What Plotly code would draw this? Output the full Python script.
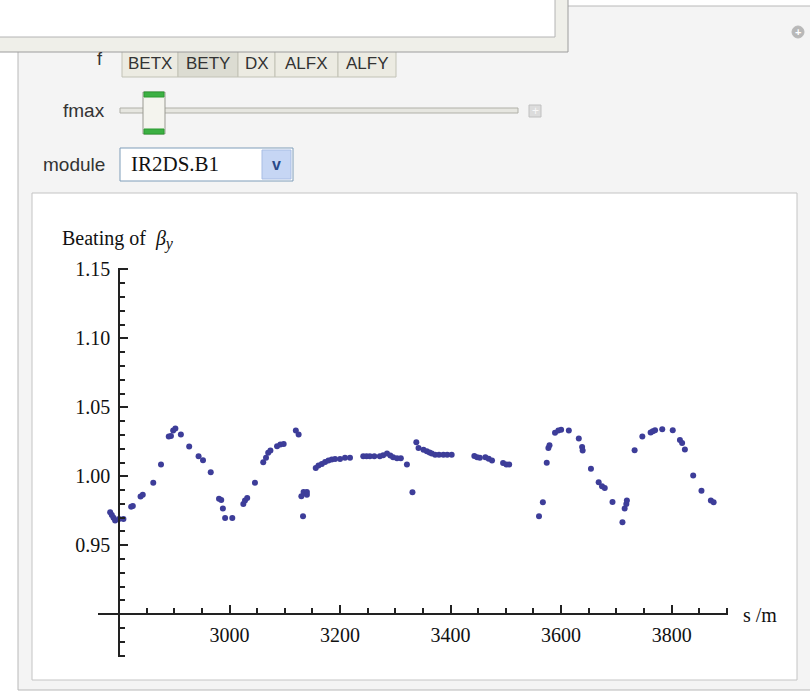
import plotly.graph_objects as go

# ---------------- data ----------------
s_m = [2784, 2787, 2790, 2793, 2800, 2808, 2822, 2825, 2839, 2843, 2862, 2876,
       2890, 2894, 2898, 2902, 2912, 2927, 2944, 2952, 2966, 2981, 2985, 2988,
       2992, 3005, 3025, 3028, 3032, 3046, 3061, 3066, 3070, 3074, 3086, 3092,
       3098, 3120, 3125, 3130, 3134, 3140, 3140, 3133, 3156, 3161, 3167, 3173,
       3179, 3185, 3191, 3200, 3209, 3218, 3242, 3248, 3254, 3262, 3272, 3278,
       3285, 3291, 3296, 3303, 3310, 3321, 3331, 3338, 3342, 3351, 3357, 3362,
       3366, 3372, 3379, 3387, 3394, 3402, 3443, 3448, 3453, 3463, 3469, 3475,
       3495, 3501, 3506, 3560, 3567, 3574, 3577, 3579, 3589, 3595, 3600, 3614,
       3632, 3638, 3639, 3654, 3668, 3674, 3679, 3693, 3711, 3715, 3718, 3719,
       3733, 3747, 3762, 3766, 3770, 3783, 3802, 3815, 3819, 3824, 3839, 3854,
       3871, 3876]
beta_y = [0.974, 0.972, 0.970, 0.968, 0.969, 0.969, 0.978, 0.9785, 0.9853, 0.9867, 0.9954, 1.0085,
          1.0288, 1.0293, 1.0332, 1.0346, 1.0303, 1.0216, 1.0145, 1.0116, 1.0029, 0.9838, 0.9828, 0.9766,
          0.9698, 0.9698, 0.980, 0.9824, 0.9843, 0.9954, 1.0102, 1.0134, 1.017, 1.0187, 1.0218, 1.023,
          1.0235, 1.0332, 1.0303, 0.9855, 0.9887, 0.9867, 0.9887, 0.971, 1.0061, 1.0078, 1.009, 1.0104,
          1.0114, 1.0121, 1.0126, 1.0126, 1.0134, 1.0134, 1.0145, 1.0145, 1.0145, 1.0145, 1.0145, 1.0152,
          1.0165, 1.015, 1.0138, 1.0131, 1.0131, 1.0085, 0.9884, 1.0247, 1.0206, 1.0192, 1.0181, 1.0172,
          1.0165, 1.0157, 1.0157, 1.0157, 1.0157, 1.0157, 1.0148, 1.0138, 1.0134, 1.0138, 1.0128, 1.0114,
          1.0097, 1.0085, 1.0085, 0.971, 0.9811, 1.0099, 1.0205, 1.0225, 1.0315, 1.0332, 1.0337, 1.0332,
          1.0274, 1.0213, 1.0187, 1.0054, 0.9956, 0.9927, 0.9916, 0.9814, 0.9666, 0.9766, 0.980, 0.9824,
          1.0189, 1.0288, 1.0317, 1.0327, 1.0334, 1.0341, 1.0334, 1.0264, 1.0242, 1.0194, 1.0005, 0.9896,
          0.9824, 0.9811]

x_tick_vals = [3000, 3200, 3400, 3600, 3800]
x_tick_text = ["3000", "3200", "3400", "3600", "3800"]
y_tick_vals = [0.95, 1.00, 1.05, 1.10, 1.15]
y_tick_text = ["0.95", "1.00", "1.05", "1.10", "1.15"]
buttons = ["BETX", "BETY", "DX", "ALFX", "ALFY"]

# ---------------- layout geometry ----------------
FW, FH = 810, 694
L, R, T, B = 98, 82, 268, 37
W = FW - L - R
H = FH - T - B
X_RANGE = [2762, 3902]
Y_RANGE = [0.869, 1.151]


def px(x):
    return (x - L) / W


def py(y):
    return (FH - B - y) / H


def rect(x0, y0, x1, y1, fill, line="rgba(0,0,0,0)", width=1, layer="below"):
    return dict(type="rect", xref="paper", yref="paper",
                x0=px(x0), x1=px(x1), y0=py(y1), y1=py(y0),
                fillcolor=fill, line=dict(color=line, width=width), layer=layer)


def text(x, y, t, size=15, color="#222", xanchor="center", family="Liberation Sans"):
    return dict(xref="paper", yref="paper", x=px(x), y=py(y), text=t,
                showarrow=False, xanchor=xanchor, yanchor="middle",
                font=dict(family=family, size=size, color=color))


shapes = []
annotations = []

# Manipulate panel background
shapes.append(rect(18, 6, 815, 690, "#f4f4f4", "#b8b8b8", 1))
# plot panel
shapes.append(rect(32, 193, 797, 680, "white", "#c4c4c4", 1))

# buttons row
bx = [122, 178, 238, 275, 338, 396]
for i, name in enumerate(buttons):
    fill = "#dcdcd2" if name == "BETY" else "#ecebe2"
    shapes.append(rect(bx[i], 50, bx[i + 1], 77, fill, "#c2c2b6", 1))
    annotations.append(text((bx[i] + bx[i + 1]) / 2, 64, name, size=17, color="#333"))
annotations.append(text(100, 59, "f", size=18, color="#333"))

# popup window at the top (drawn over the buttons)
shapes.append(rect(-5, -5, 568, 52, "#efefe9", "#9c9c9c", 1, layer="above"))
shapes.append(rect(-5, -5, 555, 37, "white", "#b4b4b4", 1, layer="above"))

# fmax slider
annotations.append(text(107, 111, "fmax", size=19, color="#333", xanchor="right"))
shapes.append(rect(120, 108, 518, 113, "#e6e6e0", "#b0b0a8", 1))
shapes.append(rect(143, 92, 165, 134, "#f4f4ee", "#9a9a92", 1))
shapes.append(rect(144, 92, 164, 97, "#3cb043", "#2a9a30", 1))
shapes.append(rect(144, 129, 164, 134, "#3cb043", "#2a9a30", 1))
shapes.append(rect(529, 105, 541, 117, "#dcdcdc", "#c0c0c0", 1))
annotations.append(text(535, 111, "+", size=12, color="#f8f8f8"))

# module dropdown
annotations.append(text(107, 164, "module", size=19, color="#333", xanchor="right"))
shapes.append(rect(120, 148, 293, 181, "white", "#7f9db9", 1))
shapes.append(rect(262, 150, 291, 179, "#c6d6f4", "#a8bde4", 1))
annotations.append(text(129, 164, "IR2DS.B1", size=21, color="#111", xanchor="left",
                        family="Liberation Serif"))
annotations.append(text(276, 164, "<b>v</b>", size=16, color="#2a4a8a"))

# small circle-plus icon
shapes.append(dict(type="circle", xref="paper", yref="paper",
                   x0=px(792), x1=px(804), y0=py(38), y1=py(26),
                   fillcolor="#b8b8b8", line=dict(color="#b8b8b8", width=1), layer="above"))
annotations.append(text(798, 32, "<b>+</b>", size=11, color="white"))

# chart texts
annotations.append(dict(xref="paper", yref="paper", x=px(60), y=py(240),
                        text="Beating of  <i>β</i><sub><span style='font-size:16px'><i>y</i></span></sub>",
                        showarrow=False, xanchor="left", yanchor="middle",
                        font=dict(family="Liberation Serif", size=20, color="#111")))
annotations.append(dict(xref="paper", yref="paper", x=px(741), y=py(615),
                        text="s /m", showarrow=False, xanchor="left", yanchor="middle",
                        font=dict(family="Liberation Serif", size=20, color="#111")))

fig = go.Figure()
fig.add_trace(go.Scatter(
    x=s_m, y=beta_y, mode="markers",
    marker=dict(size=6, color="rgb(61,61,153)", line=dict(width=0)),
    showlegend=False, hoverinfo="x+y"))

axis_font = dict(family="Liberation Serif", size=20, color="#111")
x_pos = (0.90 - Y_RANGE[0]) / (Y_RANGE[1] - Y_RANGE[0])
y_pos = (2800 - X_RANGE[0]) / (X_RANGE[1] - X_RANGE[0])

fig.update_layout(
    width=FW, height=FH,
    margin=dict(l=L, r=R, t=T, b=B, pad=0),
    paper_bgcolor="white", plot_bgcolor="white",
    shapes=shapes, annotations=annotations,
    xaxis=dict(range=X_RANGE, anchor="free", position=x_pos, showgrid=False, zeroline=False,
               showline=True, linecolor="#222", linewidth=1.5,
               ticks="inside", ticklen=8, tickwidth=1.5, tickcolor="#222",
               tickmode="array", tickvals=x_tick_vals, ticktext=x_tick_text,
               tickfont=axis_font, ticklabelstandoff=3,
               minor=dict(tickmode="linear", tick0=0, dtick=50, ticks="inside",
                          ticklen=5, tickwidth=1.5, tickcolor="#222", showgrid=False)),
    yaxis=dict(range=Y_RANGE, anchor="free", position=y_pos, showgrid=False, zeroline=False,
               showline=True, linecolor="#222", linewidth=1.5,
               ticks="inside", ticklen=8, tickwidth=1.5, tickcolor="#222",
               tickmode="array", tickvals=y_tick_vals, ticktext=y_tick_text,
               tickfont=axis_font, ticklabelstandoff=4,
               minor=dict(tickmode="linear", tick0=0, dtick=0.01, ticks="inside",
                          ticklen=5, tickwidth=1.5, tickcolor="#222", showgrid=False)),
)

fig.write_html("out.html", config={"displayModeBar": False},
               post_script="document.body.style.margin='0';document.body.style.overflow='hidden';")
